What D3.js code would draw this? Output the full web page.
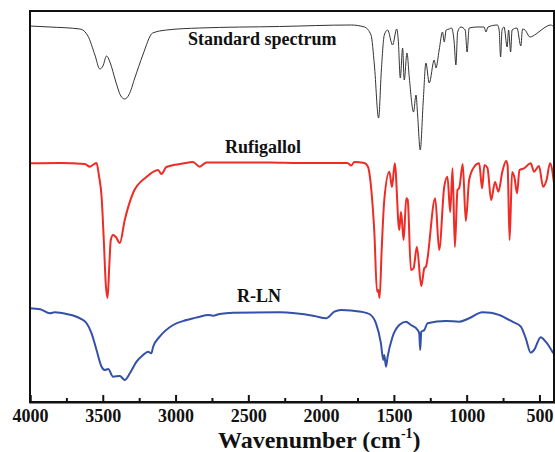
<!DOCTYPE html>
<html><head><meta charset="utf-8">
<script src="https://cdn.jsdelivr.net/npm/d3@7"></script>
<style>
html,body{margin:0;padding:0;background:#fff;}
svg{display:block;}
</style></head>
<body>
<script>
// ---- Data: [wavenumber (cm^-1), transmittance (a.u., offset stack)] ----
const seriesNames = ["Standard spectrum", "Rufigallol", "R-LN"];
const xTicks = [4000, 3500, 3000, 2500, 2000, 1500, 1000, 500];
const xMinorTicks = [3750, 3250, 2750, 2250, 1750, 1250, 750];

const standardSpectrum = [
[4000,376],[3863,375],[3657,373],[3602,366],[3554,347],[3520,333],[3499,336],[3474,346],[3451,340],
[3410,320],[3376,306],[3349,303],[3321,307],[3280,324],[3225,347],[3157,369],[3061,372],[2834,374],
[2286,375.5],[1792,377],[1703,375],[1657,367],[1634,337],[1605,284],[1586,332],[1566,367],[1543,372],
[1509,357],[1481,373],[1470,362],[1456,324],[1440,354],[1429,322],[1410,349],[1394,324],[1365,290],
[1348,307],[1337,287],[1319,252],[1298,302],[1280,339],[1257,319],[1223,342],[1211,334],[1189,352],
[1166,370],[1154,360],[1141,372],[1120,373],[1104,374],[1086,360],[1074,337],[1062,370],[1040,375],
[1010,372],[997,350],[983,374],[928,375],[880,375],[868,370],[853,375],[789,377],[777,372],[767,345],
[757,372],[743,375],[722,355],[712,372],[698,350],[688,372],[654,374],[628,356],[616,373],[599,372],
[565,365],[523,368],[469,374],[423,377],[400,375]
];

const rufigallol = [
[4000,238.7],[3794,239],[3623,238],[3589,235.3],[3543,239],[3527,227],[3508,205],[3493,162],[3479,117],
[3467,104],[3455,137],[3445,162],[3429,167],[3410,165],[3383,159],[3349,182],[3292,209],[3200,225],
[3120,232],[3097,228],[3063,235],[2949,238.5],[2880,240],[2834,235.3],[2788,239.5],[2354,239.5],
[2149,239],[1819,239],[1794,236.5],[1771,240],[1703,239],[1678,235.3],[1655,212],[1634,169],[1616,110.3],
[1607,112],[1598,104],[1584,152],[1566,202],[1531,230.3],[1513,215],[1494,238.7],[1463,172],[1451,190.3],
[1433,162],[1415,203.7],[1405,202],[1383,132],[1365,133.7],[1342,155.3],[1312,116],[1291,133.7],[1280,135.3],
[1216,203.7],[1189,152],[1154,215.3],[1132,225.3],[1113,190],[1097,233.7],[1081,155],[1063,212],[1051,214],
[1027,238],[1006,181],[983,222],[949,235],[914,238.7],[894,213.7],[878,237],[857,234],[832,202],[805,220],
[782,210.3],[755,230.3],[729,241],[719,237],[705,162],[688,230],[671,224],[654,208.7],[637,232],[606,233.7],
[560,238.7],[537,230.3],[503,236],[475,215.3],[451,222],[427,238.7],[400,219]
];

const rln = [
[4000,93.7],[3931,92.7],[3863,88.7],[3829,89.7],[3748,88],[3657,83.7],[3611,78.7],[3577,68.7],[3543,52],
[3508,35.3],[3486,32],[3463,33],[3429,25.3],[3383,26],[3349,22],[3314,28.7],[3268,40.3],[3223,47],
[3189,50.3],[3166,48.7],[3154,55.3],[3109,65.3],[3017,77],[2925,82],[2834,85.3],[2777,87],[2743,86.3],
[2697,88],[2606,89.3],[2286,89.7],[2046,86],[1966,83.7],[1909,90.3],[1863,92],[1726,90.3],[1669,88],
[1623,78.7],[1589,58.7],[1573,42],[1566,47],[1554,35.3],[1543,45.3],[1509,65.3],[1463,77],[1417,80.3],
[1383,77],[1337,72],[1326,68.7],[1319,52],[1312,70.3],[1291,72],[1269,78.7],[1143,81],[1051,80.3],
[983,83.7],[892,89.7],[834,89.3],[777,87],[686,80.3],[628,75.3],[594,63.7],[560,49.3],[537,52],
[491,64.7],[457,60.3],[405,48.7]
];

const W = 555, H = 452;
const margin = {left: 30, right: 1, top: 11, bottom: 50};
const svg = d3.select("body").append("svg").attr("width", W).attr("height", H);

const x = d3.scaleLinear().domain([4000, 400]).range([margin.left, W - margin.right]);
const y = d3.scaleLinear().domain([0, 391]).range([H - margin.bottom, margin.top]);

const line = d3.line().x(d => x(d[0])).y(d => y(d[1])).curve(d3.curveMonotoneX);

const series = [
  {name: seriesNames[0], data: standardSpectrum, color: "#333333", width: 1},
  {name: seriesNames[1], data: rufigallol, color: "#ee2b24", width: 2},
  {name: seriesNames[2], data: rln, color: "#3450a8", width: 2}
];

series.forEach(s => {
  svg.append("path").datum(s.data)
    .attr("d", line).attr("fill", "none")
    .attr("stroke", s.color).attr("stroke-width", s.width)
    .attr("stroke-linejoin", "round");
});

// frame
svg.append("rect")
  .attr("x", x(4000)).attr("y", y(391))
  .attr("width", x(400) - x(4000)).attr("height", y(0) - y(391))
  .attr("fill", "none").attr("stroke", "#111").attr("stroke-width", 2);

// x axis (ticks inward)
const xAxis = d3.axisBottom(x).tickValues(xTicks).tickSize(-7).tickPadding(7).tickFormat(d3.format("d"));
const gx = svg.append("g").attr("transform", `translate(0,${y(0)})`).call(xAxis);
gx.select(".domain").attr("stroke", "#111").attr("stroke-width", 2);
gx.selectAll(".tick line").attr("stroke", "#111").attr("stroke-width", 2);
gx.selectAll(".tick text")
  .attr("font-family", "'Liberation Serif','Times New Roman',serif")
  .attr("font-weight", "bold").attr("font-size", 18).attr("fill", "#111");

const gm = svg.append("g").attr("transform", `translate(0,${y(0)})`)
  .call(d3.axisBottom(x).tickValues(xMinorTicks).tickSize(-4).tickFormat(""));
gm.select(".domain").remove();
gm.selectAll(".tick line").attr("stroke", "#111").attr("stroke-width", 2);

// axis title
const title = svg.append("text")
  .attr("x", 218).attr("y", 448)
  .attr("font-family", "'Liberation Serif','Times New Roman',serif")
  .attr("font-weight", "bold").attr("font-size", 24).attr("fill", "#111");
title.append("tspan").text("Wavenumber (cm");
title.append("tspan").attr("font-size", 14).attr("dy", -10).text("-1");
title.append("tspan").attr("dy", 10).text(")");

// series labels
const labelPos = [[188, 45], [225, 152.5], [237, 302]];
series.forEach((s, i) => {
  svg.append("text")
    .attr("x", labelPos[i][0]).attr("y", labelPos[i][1])
    .attr("font-family", "'Liberation Serif','Times New Roman',serif")
    .attr("font-weight", "bold").attr("font-size", 18).attr("fill", "#111")
    .text(s.name);
});
</script>
</body></html>
